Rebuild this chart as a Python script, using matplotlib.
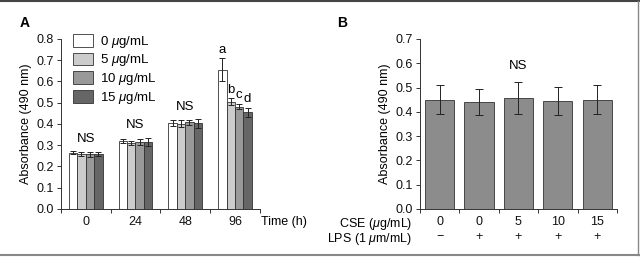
import matplotlib.pyplot as plt
import numpy as np
from matplotlib.lines import Line2D

plt.rcParams['font.family'] = ['Liberation Sans', 'DejaVu Sans']
plt.rcParams['font.size'] = 9
plt.rcParams['mathtext.fontset'] = 'custom'
plt.rcParams['mathtext.it'] = 'Liberation Sans:italic'

# panel A
times = ['0', '24', '48', '96']
doses = ['0 $\\mu$g/mL', '5 $\\mu$g/mL', '10 $\\mu$g/mL', '15 $\\mu$g/mL']
a_vals = [[0.265, 0.258, 0.258, 0.260],
          [0.320, 0.312, 0.316, 0.316],
          [0.405, 0.402, 0.408, 0.403],
          [0.655, 0.505, 0.482, 0.455]]
a_errs = [[0.006, 0.010, 0.012, 0.010],
          [0.008, 0.010, 0.015, 0.020],
          [0.015, 0.015, 0.012, 0.020],
          [0.055, 0.015, 0.012, 0.020]]
a_marks = ['NS', 'NS', 'NS', None]
sig_96 = ['a', 'b', 'c', 'd']
a_colors = ['white', '#cccccc', '#999999', '#666666']

# panel B
cse = ['0', '0', '5', '10', '15']
lps = ['\u2212', '+', '+', '+', '+']
b_vals = [0.450, 0.440, 0.458, 0.445, 0.449]
b_errs = [0.060, 0.053, 0.066, 0.058, 0.060]

fig = plt.figure(figsize=(6.4, 2.58), dpi=100)
axA = fig.add_axes([0.095, 0.19, 0.311, 0.659])
axB = fig.add_axes([0.656, 0.19, 0.308, 0.659])

ecol = '#333333'
w = 0.17
for i in range(len(times)):
    for j in range(len(doses)):
        x = i + 0.5 + (j - 1.5) * w
        axA.bar(x, a_vals[i][j], w, color=a_colors[j], edgecolor=ecol, linewidth=0.6)
        axA.errorbar(x, a_vals[i][j], yerr=a_errs[i][j], color='#222222',
                     capsize=2, elinewidth=0.7, capthick=0.7)
    if a_marks[i]:
        top = max(a_vals[i][k] + a_errs[i][k] for k in range(4))
        axA.text(i + 0.5, top + 0.03, a_marks[i], ha='center', va='bottom', fontsize=9.5)
for j in range(4):
    x = 3 + 0.5 + (j - 1.5) * w
    axA.text(x, a_vals[3][j] + a_errs[3][j] + 0.012, sig_96[j],
             ha='center', va='bottom', fontsize=9.5)

axA.set_xlim(0, 4)
axA.set_ylim(0, 0.8)
axA.set_yticks(np.arange(0, 0.81, 0.1))
axA.set_yticklabels(['%.1f' % v for v in np.arange(0, 0.81, 0.1)])
axA.set_xticks(np.arange(4) + 0.5)
axA.set_xticklabels(times)
axA.set_xticks(np.arange(5), minor=True)
axA.tick_params(axis='x', which='major', length=0, pad=5)
axA.tick_params(axis='x', which='minor', length=3)
axA.tick_params(axis='y', length=3, pad=2)
axA.set_ylabel('Absorbance (490 nm)', labelpad=3)
axA.text(1.005, -0.04, 'Time (h)', transform=axA.transAxes, ha='left', va='top')
handles = [plt.Rectangle((0, 0), 1, 1, facecolor=c, edgecolor=ecol, linewidth=0.6) for c in a_colors]
axA.legend(handles, doses, loc='upper left', bbox_to_anchor=(0.06, 1.03), frameon=False,
           handlelength=1.5, handleheight=1.1, labelspacing=0.2, borderpad=0,
           borderaxespad=0, handletextpad=0.6, fontsize=9.5)

xb = np.arange(len(cse)) + 0.5
axB.bar(xb, b_vals, 0.74, color='#8c8c8c', edgecolor=ecol, linewidth=0.6)
axB.errorbar(xb, b_vals, yerr=b_errs, fmt='none', ecolor='#222222',
             capsize=3, elinewidth=0.7, capthick=0.7)
axB.text(xb[2], b_vals[2] + b_errs[2] + 0.04, 'NS', ha='center', va='bottom', fontsize=9.5)
axB.set_xlim(0, 5)
axB.set_ylim(0, 0.7)
axB.set_yticks(np.arange(0, 0.71, 0.1))
axB.set_yticklabels(['%.1f' % v for v in np.arange(0, 0.71, 0.1)])
axB.set_xticks(xb)
axB.set_xticklabels(['%s\n%s' % (c, l) for c, l in zip(cse, lps)], linespacing=1.35)
axB.set_xticks(np.arange(6), minor=True)
axB.tick_params(axis='x', which='major', length=0, pad=5)
axB.tick_params(axis='x', which='minor', length=3)
axB.tick_params(axis='y', length=3, pad=2)
axB.set_ylabel('Absorbance (490 nm)', labelpad=3)
axB.text(-0.04, -0.04, 'CSE ($\\mu$g/mL)', transform=axB.transAxes, ha='right', va='top')
axB.text(-0.04, -0.13, 'LPS (1 $\\mu$m/mL)', transform=axB.transAxes, ha='right', va='top')

for ax in (axA, axB):
    for s in ('top', 'right'):
        ax.spines[s].set_visible(False)
    for s in ('left', 'bottom'):
        ax.spines[s].set_linewidth(0.7)
        ax.spines[s].set_color('#333333')
    ax.tick_params(which='both', width=0.7, colors='#333333', labelcolor='#111111')

fig.text(0.031, 0.91, 'A', fontsize=10, fontweight='bold', va='center')
fig.text(0.526, 0.91, 'B', fontsize=10, fontweight='bold', va='center')

# frame lines of the figure
fig.add_artist(Line2D([0, 1], [0.995, 0.995], transform=fig.transFigure, color='#444444', lw=1.5))
fig.add_artist(Line2D([0, 1], [0.012, 0.012], transform=fig.transFigure, color='#888888', lw=1.5))
fig.add_artist(Line2D([0.997, 0.997], [0.012, 0.995], transform=fig.transFigure, color='#888888', lw=1))

fig.savefig('out.png', dpi=100)
